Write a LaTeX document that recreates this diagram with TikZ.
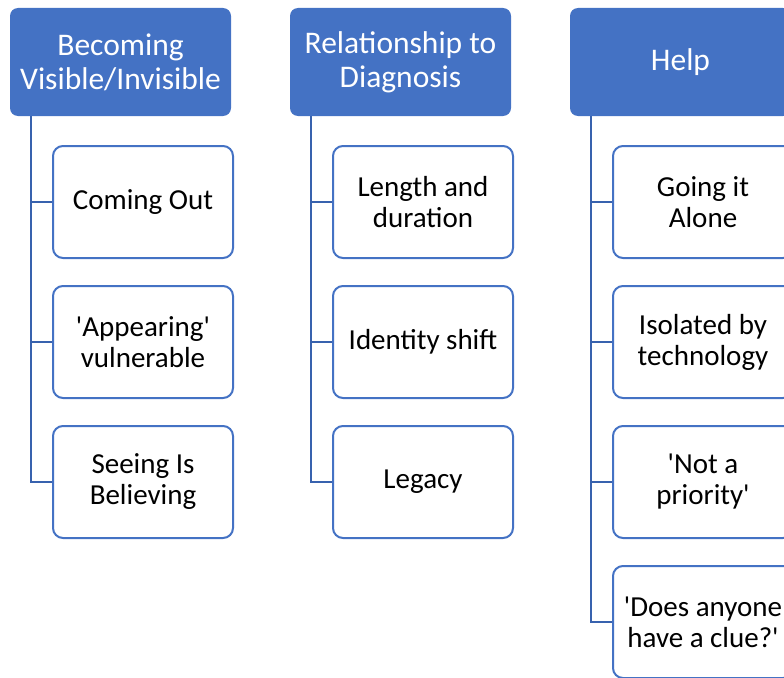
\documentclass[tikz,border=0pt]{standalone}
\usepackage{fontspec}
\setmainfont{Carlito}
\usetikzlibrary{positioning}

\definecolor{headblue}{HTML}{4472C4}
\definecolor{linkblue}{HTML}{3862AE}

\tikzset{
  head/.style={rectangle, rounded corners=8pt, fill=headblue, text=white,
    minimum width=221pt, minimum height=108pt, align=center,
    font=\fontsize{31.5}{34}\selectfont},
  item/.style={rectangle, rounded corners=10pt, draw=headblue, line width=2pt,
    fill=white, text=black, minimum width=180pt, minimum height=112pt,
    align=center, font=\fontsize{29}{31}\selectfont},
  link/.style={draw=linkblue, line width=2.4pt}
}
\newcommand{\q}{\textquotesingle}

\begin{document}
\begin{tikzpicture}[x=1pt,y=-1pt]
    \useasboundingbox (0,0) rectangle (784,677);

    % Headings
    \node[head] (visible) at (120.5,62) {Becoming\\Visible/Invisible};
    \node[head] (diagnosis) at (400.5,62) {Relationship to\\Diagnosis};
    \node[head] (help) at (680.5,62) {Help};

    % Trunk start points under each heading
    \coordinate (visibletrunk) at ([xshift=21pt]visible.south west);
    \coordinate (diagnosistrunk) at ([xshift=21pt]diagnosis.south west);
    \coordinate (helptrunk) at ([xshift=21pt]help.south west);

    % First column
    \node[item] (comingout) at (143,202) {Coming Out};
    \node[item, below=26pt of comingout] (appearing) {\q Appearing\q\\vulnerable};
    \node[item, below=26pt of appearing] (seeing) {Seeing Is\\Believing};

    % Second column
    \node[item] (length) at (423,202) {Length and\\duration};
    \node[item, below=26pt of length] (identity) {Identity shift};
    \node[item, below=26pt of identity] (legacy) {Legacy};

    % Third column
    \node[item] (alone) at (703,202) {Going it\\Alone};
    \node[item, below=26pt of alone] (isolated) {Isolated by\\technology};
    \node[item, below=26pt of isolated] (priority) {\q Not a\\priority\q};
    \node[item, below=26pt of priority] (clue) {\q Does anyone\\have a clue?\q};

    % Connectors
    \draw[link] (visibletrunk) |- (comingout.west);
    \draw[link] (visibletrunk) |- (appearing.west);
    \draw[link] (visibletrunk) |- (seeing.west);

    \draw[link] (diagnosistrunk) |- (length.west);
    \draw[link] (diagnosistrunk) |- (identity.west);
    \draw[link] (diagnosistrunk) |- (legacy.west);

    \draw[link] (helptrunk) |- (alone.west);
    \draw[link] (helptrunk) |- (isolated.west);
    \draw[link] (helptrunk) |- (priority.west);
    \draw[link] (helptrunk) |- (clue.west);
\end{tikzpicture}
\end{document}
